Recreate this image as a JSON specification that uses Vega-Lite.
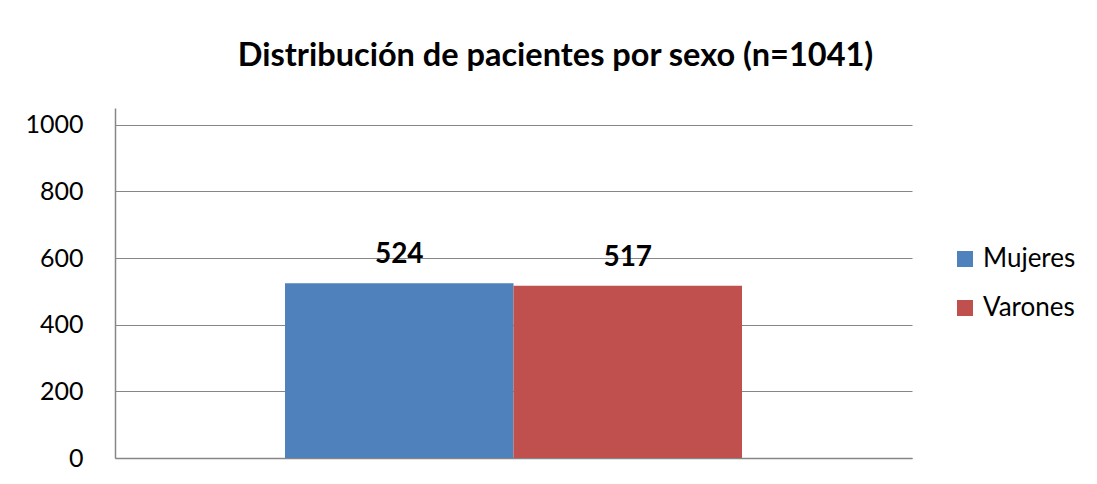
{
  "$schema": "https://vega.github.io/schema/vega-lite/v6.json",
  "width": 797,
  "height": 350,
  "autosize": {"type": "none"},
  "padding": {"left": 115, "top": 108, "right": 185, "bottom": 26},
  "background": "white",
  "config": {
    "font": "Lato",
    "view": {"stroke": null}
  },
  "title": {
    "text": "Distribución de pacientes por sexo (n=1041)",
    "fontSize": 32.5,
    "fontWeight": "bold",
    "font": "Lato",
    "color": "#000000",
    "anchor": "middle",
    "dx": 42,
    "offset": 36
  },
  "data": {
    "values": [
      {"sexo": "Mujeres", "pacientes": 524},
      {"sexo": "Varones", "pacientes": 517}
    ]
  },
  "encoding": {
    "x": {
      "field": "sexo",
      "type": "nominal",
      "sort": ["Mujeres", "Varones"],
      "scale": {"paddingInner": 0, "paddingOuter": 0.744},
      "axis": {
        "title": null,
        "labels": false,
        "ticks": false,
        "domainColor": "#868686",
        "domainWidth": 1.5
      }
    },
    "y": {
      "field": "pacientes",
      "type": "quantitative",
      "scale": {"domain": [0, 1050], "nice": false},
      "axis": {
        "title": null,
        "values": [0, 200, 400, 600, 800, 1000],
        "format": "d",
        "labelFontSize": 25,
        "labelColor": "#000000",
        "labelPadding": 32,
        "ticks": false,
        "domainColor": "#868686",
        "domainWidth": 1.5,
        "gridColor": "#868686",
        "gridWidth": 1.2,
        "labelFont": "Lato"
      }
    }
  },
  "layer": [
    {
      "mark": {"type": "bar"},
      "encoding": {
        "color": {
          "field": "sexo",
          "type": "nominal",
          "scale": {"domain": ["Mujeres", "Varones"], "range": ["#4F81BD", "#C0504D"]},
          "legend": {
            "title": null,
            "orient": "none",
            "legendX": 837,
            "legendY": 138,
            "symbolType": "square",
            "symbolSize": 256,
            "symbolStrokeWidth": 0,
            "labelFontSize": 26,
            "labelColor": "#000000",
            "labelFont": "Lato",
            "rowPadding": 23,
            "labelOffset": 5
          }
        }
      }
    },
    {
      "mark": {"type": "text", "fontSize": 28, "fontWeight": "bold", "baseline": "alphabetic", "dy": -20, "color": "#000000", "font": "Lato"},
      "encoding": {
        "text": {"field": "pacientes", "type": "quantitative"}
      }
    }
  ]
}
